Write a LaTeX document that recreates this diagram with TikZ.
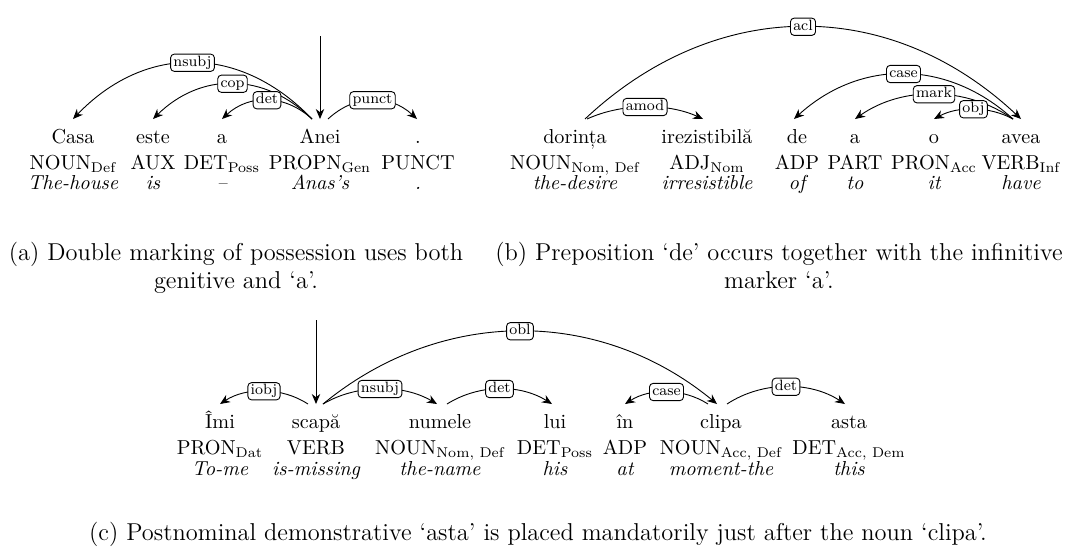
\documentclass[tikz,border=0pt]{standalone}
\usepackage{fontspec}
\usepackage{amsmath}
\usetikzlibrary{arrows.meta,calc}
\newcommand\wsz{\fontsize{10.1}{12}\selectfont}
\newcommand\capsz{\fontsize{12.2}{14.5}\selectfont}
\newcommand\lsz{\fontsize{7.5}{9}\selectfont}
\newcommand\Sb[1]{$_{\text{#1}}$}
\begin{document}
\begin{tikzpicture}[x=0.5pt,y=-0.5pt,
  wd/.style={anchor=base,inner sep=0pt,font=\wsz},
  gl/.style={anchor=base,inner sep=0pt,font=\wsz\itshape},
  captxt/.style={anchor=base,inner sep=0pt,font=\capsz},
  dep/.style={line width=0.45pt,-{Stealth[length=5pt,width=4.2pt,inset=1.6pt]}},
  lab/.style={draw,fill=white,rounded corners=1.8pt,line width=0.45pt,font=\lsz,
    inner xsep=1.4pt,inner ysep=0.9pt,text height=5.2pt,text depth=1.6pt}]
\useasboundingbox (0,0) rectangle (1071,547);
% ---------------- (a) ----------------
\node[wd] (casa) at (73,143) {Casa};
\node[wd] (este) at (153,143) {este};
\node[wd] (aa) at (222,143) {a};
\node[wd] (anei) at (320,143) {Anei};
\node[wd] (dot) at (418,143) {.};
\node[wd] (pa1) at (73,169) {NOUN\Sb{Def}};
\node[wd] (pa2) at (153,169) {AUX};
\node[wd] (pa3) at (222,169) {DET\Sb{Poss}};
\node[wd] (pa4) at (320,169) {PROPN\Sb{Gen}};
\node[wd] (pa5) at (418,169) {PUNCT};
\node[gl] (ga1) at (73,189) {The-house};
\node[gl] (ga2) at (153,189) {is};
\node[gl] (ga3) at (222,189) {–};
\node[gl] (ga4) at (320,189) {Anas’s};
\node[gl] (ga5) at (418,189) {.};
\coordinate (rootA) at (320,36);
\draw[dep] (rootA) -- ($(anei.base)+(0,-24)$);
\draw[dep] ($(anei.base)+(-8,-24)$) .. controls +(-72,-75) and +(72,-75) .. ($(casa.base)+(0,-24)$) node[lab,pos=.5]{nsubj};
\draw[dep] ($(anei.base)+(-8,-24)$) .. controls +(-48,-47) and +(48,-47) .. ($(este.base)+(0,-24)$) node[lab,pos=.5]{cop};
\draw[dep] ($(anei.base)+(-8,-24)$) .. controls +(-27,-25) and +(27,-25) .. ($(aa.base)+(0,-24)$) node[lab,pos=.5]{det};
\draw[dep] ($(anei.base)+(8,-24)$) .. controls +(27,-25) and +(-27,-25) .. ($(dot.base)+(-1,-24)$) node[lab,pos=.5]{punct};
\node[captxt] (capa1) at (236,260) {(a) Double marking of possession uses both};
\node[captxt] (capa2) at (236,288) {genitive and ‘a’.};
% ---------------- (b) ----------------
\node[wd] (dor) at (575,143) {dorința};
\node[wd] (ire) at (707,143) {irezistibilă};
\node[wd] (de) at (797,143) {de};
\node[wd] (ab) at (855,143) {a};
\node[wd] (ob) at (934,143) {o};
\node[wd] (avea) at (1021,143) {avea};
\node[wd] (pb1) at (575,169) {NOUN\Sb{Nom, Def}};
\node[wd] (pb2) at (707,169) {ADJ\Sb{Nom}};
\node[wd] (pb3) at (797,169) {ADP};
\node[wd] (pb4) at (855,169) {PART};
\node[wd] (pb5) at (934,169) {PRON\Sb{Acc}};
\node[wd] (pb6) at (1021,169) {VERB\Sb{Inf}};
\node[gl] (gb1) at (575,189) {the-desire};
\node[gl] (gb2) at (707,189) {irresistible};
\node[gl] (gb3) at (797,189) {of};
\node[gl] (gb4) at (855,189) {to};
\node[gl] (gb5) at (934,189) {it};
\node[gl] (gb6) at (1021,189) {have};
\draw[dep] ($(dor.base)+(10,-24)$) .. controls +(131,-123) and +(-131,-123) .. ($(avea.base)+(0,-24)$) node[lab,pos=.5]{acl};
\draw[dep] ($(avea.base)+(-8,-24)$) .. controls +(-66,-60) and +(66,-60) .. ($(de.base)+(-3,-24)$) node[lab,pos=.5]{case};
\draw[dep] ($(avea.base)+(-8,-24)$) .. controls +(-47,-33) and +(47,-33) .. ($(ab.base)+(0,-24)$) node[lab,pos=.5]{mark};
\draw[dep] ($(avea.base)+(-8,-24)$) .. controls +(-24,-13) and +(24,-13) .. ($(ob.base)+(0,-24)$) node[lab,pos=.5]{obj};
\draw[dep] ($(dor.base)+(12,-24)$) .. controls +(35,-16) and +(-35,-16) .. ($(ire.base)+(-4,-24)$) node[lab,pos=.5]{amod};
\node[captxt] (capb1) at (779,260) {(b) Preposition ‘de’ occurs together with the infinitive};
\node[captxt] (capb2) at (779,288) {marker ‘a’.};
% ---------------- (c) ----------------
\node[wd] (imi) at (220,428) {Îmi};
\node[wd] (scapa) at (316,428) {scapă};
\node[wd] (num) at (440,428) {numele};
\node[wd] (lui) at (555,428) {lui};
\node[wd] (in) at (625,428) {în};
\node[wd] (clipa) at (721,428) {clipa};
\node[wd] (asta) at (849,428) {asta};
\node[wd] (pc1) at (220,454) {PRON\Sb{Dat}};
\node[wd] (pc2) at (316,454) {VERB};
\node[wd] (pc3) at (440,454) {NOUN\Sb{Nom, Def}};
\node[wd] (pc4) at (555,454) {DET\Sb{Poss}};
\node[wd] (pc5) at (625,454) {ADP};
\node[wd] (pc6) at (721,454) {NOUN\Sb{Acc, Def}};
\node[wd] (pc7) at (849,454) {DET\Sb{Acc, Dem}};
\node[gl] (gc1) at (220,475) {To-me};
\node[gl] (gc2) at (316,475) {is-missing};
\node[gl] (gc3) at (440,475) {the-name};
\node[gl] (gc4) at (555,475) {his};
\node[gl] (gc5) at (625,475) {at};
\node[gl] (gc6) at (721,475) {moment-the};
\node[gl] (gc7) at (849,475) {this};
\coordinate (rootC) at (316,320);
\draw[dep] (rootC) -- ($(scapa.base)+(0,-24)$);
\draw[dep] ($(scapa.base)+(7,-24)$) .. controls +(118,-97) and +(-118,-97) .. ($(clipa.base)+(-4,-24)$) node[lab,pos=.5]{obl};
\draw[dep] ($(scapa.base)+(-8,-24)$) .. controls +(-26,-17) and +(26,-17) .. ($(imi.base)+(0,-24)$) node[lab,pos=.5]{iobj};
\draw[dep] ($(scapa.base)+(7,-24)$) .. controls +(34,-20) and +(-34,-20) .. ($(num.base)+(-3,-24)$) node[lab,pos=.5]{nsubj};
\draw[dep] ($(num.base)+(7,-24)$) .. controls +(32,-20) and +(-32,-20) .. ($(lui.base)+(-3,-24)$) node[lab,pos=.5]{det};
\draw[dep] ($(clipa.base)+(-13,-24)$) .. controls +(-25,-16) and +(25,-16) .. ($(in.base)+(0,-24)$) node[lab,pos=.5]{case};
\draw[dep] ($(clipa.base)+(6,-24)$) .. controls +(35,-23) and +(-35,-23) .. ($(asta.base)+(-4,-24)$) node[lab,pos=.5]{det};
\node[captxt] (capc) at (538,540) {(c) Postnominal demonstrative ‘asta’ is placed mandatorily just after the noun ‘clipa’.};
\end{tikzpicture}
\end{document}
